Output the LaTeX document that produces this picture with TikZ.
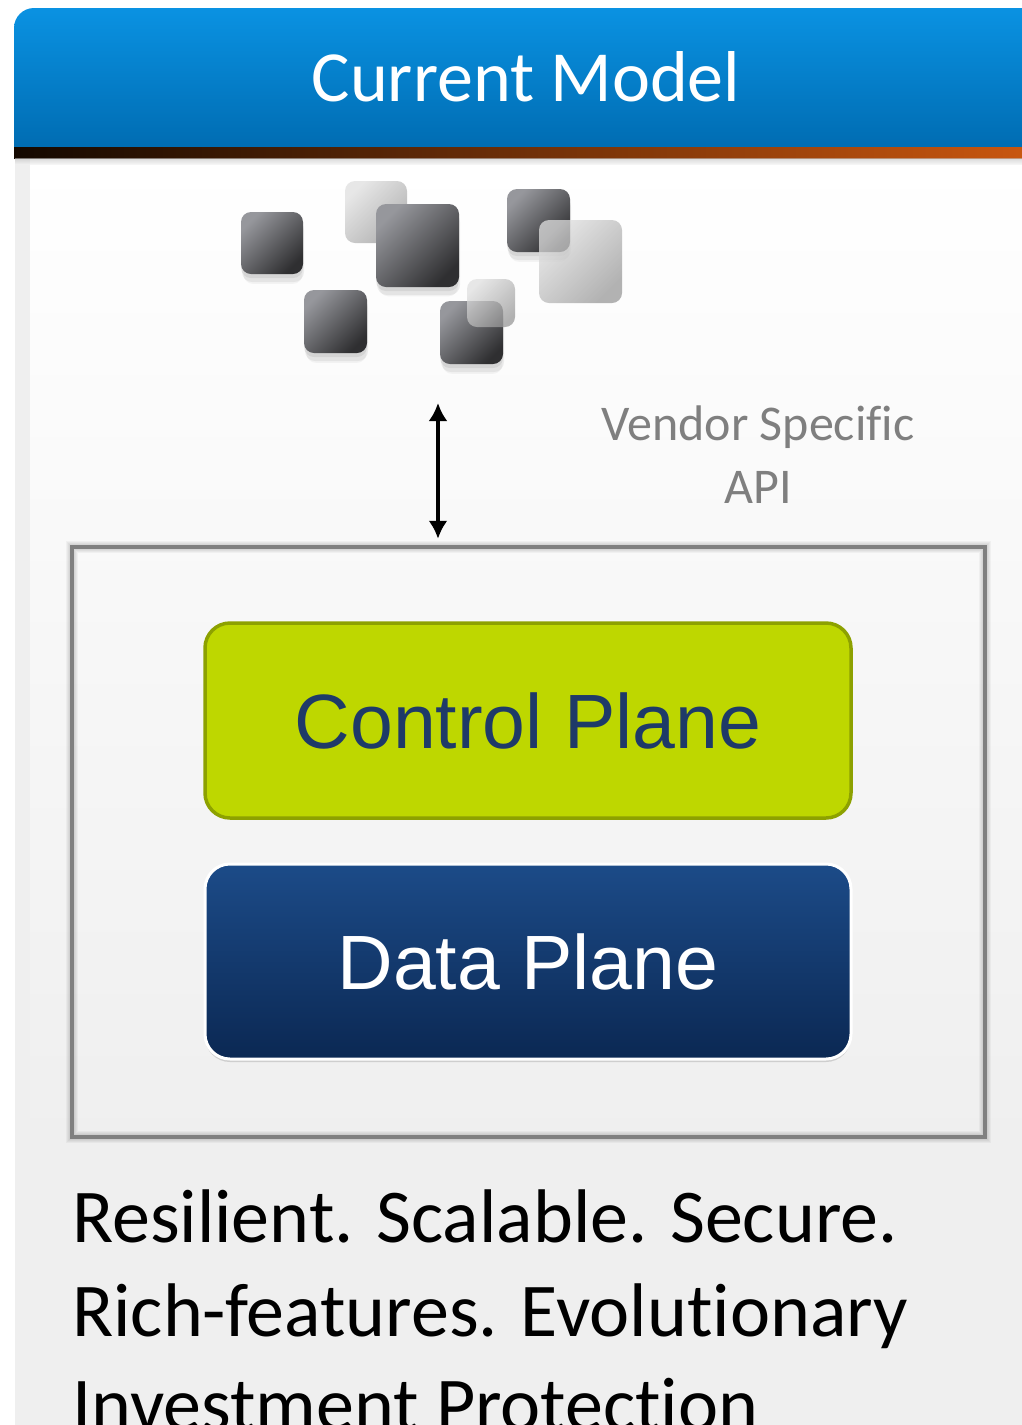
\documentclass[tikz,border=0pt]{standalone}
\usepackage{fontspec}
\setmainfont{Carlito}[Ligatures=NoCommon]
\newfontfamily\planefont{Liberation Sans}
\usetikzlibrary{shadows, arrows.meta}

\definecolor{headtop}{HTML}{0A92E2}
\definecolor{headbot}{HTML}{006CB2}
\definecolor{stripeleft}{HTML}{140800}
\definecolor{striperight}{HTML}{C8560F}
\definecolor{panelgray}{HTML}{EFEFEF}
\definecolor{framegray}{HTML}{808080}
\definecolor{vendorgray}{HTML}{7F7F7F}
\definecolor{sqtop}{HTML}{96979C}
\definecolor{sqbot}{HTML}{2F2F31}
\definecolor{ctrlfill}{HTML}{BED700}
\definecolor{ctrledge}{HTML}{8DA100}
\definecolor{ctrltext}{HTML}{1E3A68}
\definecolor{datatop}{HTML}{1C4B88}
\definecolor{databot}{HTML}{0B2853}

\begin{document}
\begin{tikzpicture}[x=1pt, y=-1pt]
    \tikzset{
        darksq/.style={rounded corners=10pt, top color=sqtop, bottom color=sqbot,
            shading angle=45,
            drop shadow={shadow xshift=0pt, shadow yshift=-4pt, opacity=0.15},
            drop shadow={shadow xshift=1pt, shadow yshift=-8pt, opacity=0.12},
            drop shadow={shadow xshift=1pt, shadow yshift=-12pt, shadow scale=0.95, opacity=0.08}},
        lightsq/.style={rounded corners=10pt, top color=black!12, bottom color=black!40,
            shading angle=45, opacity=0.75},
        plane/.style={rounded corners=25pt, minimum width=646pt, minimum height=195pt,
            font=\planefont\fontsize{77}{80}\selectfont},
        halo/.style={draw=black, line width=#1, opacity=0.035},
        apitip/.tip={Latex[length=18pt, width=19pt]}
    }
    \useasboundingbox (0,0) rectangle (1022,1425);

    % slide background
    \fill[panelgray] (15,150) rectangle (1022,1425);
    \shade[top color=white, bottom color=panelgray] (30,158) rectangle (1022,1148);

    % title bar
    \shade[top color=headtop, bottom color=headbot, rounded corners=20pt]
        (14,148) -- (14,8) -- (1060,8) -- (1060,148);
    \shade[left color=stripeleft, right color=striperight] (14,147) rectangle (1022,158);
    \shade[top color=black!25, bottom color=panelgray, opacity=0.6] (15,158) rectangle (1022,164);
    \node[text=white, font=\fontsize{72}{80}\selectfont] (title) at (526,77) {Current Model};

    % applications
    \shade[lightsq] (345,181) rectangle ++(62,62);
    \foreach \x/\y/\w in {241/212/62, 376/204/83, 304/290/63, 440/301/63, 507/189/63} {
        \shade[darksq] (\x,\y) rectangle ++(\w,\w);
    }
    \foreach \x/\y/\w in {467/279/48, 539/220/83} {
        \shade[lightsq] (\x,\y) rectangle ++(\w,\w);
    }

    % box around the planes
    \node[minimum width=913pt, minimum height=590pt] (frame) at (528.5,842) {};
    \foreach \lw in {12pt, 10pt, 8pt, 6pt} {
        \draw[halo=\lw] (frame.north west) rectangle (frame.south east);
    }
    \draw[framegray, line width=4pt] (frame.north west) rectangle (frame.south east);

    \node[plane, fill=ctrlfill, draw=ctrledge, line width=3.5pt, text=ctrltext]
        (cplane) at (528,720.5) {Control Plane};
    \node[plane, top color=datatop, bottom color=databot, draw=white, line width=3pt,
        text=white, drop shadow={shadow xshift=0pt, shadow yshift=-3pt, opacity=0.3}]
        (dplane) at (528,961.5) {Data Plane};

    % api link
    \coordinate (apps) at (438,403);
    \draw[line width=4pt, apitip-apitip, shorten >=8pt] (apps) -- (apps |- frame.north);
    \node[text=vendorgray, align=center, font=\fontsize{50}{63}\selectfont]
        (vendor) at (758,455) {Vendor Specific\\API};

    \node[anchor=north west, align=left, inner sep=0pt, font=\fontsize{76}{94}\selectfont]
        (motto) at (72,1190) {Resilient. Scalable. Secure.\\Rich-features. Evolutionary\\Investment Protection};
\end{tikzpicture}
\end{document}
